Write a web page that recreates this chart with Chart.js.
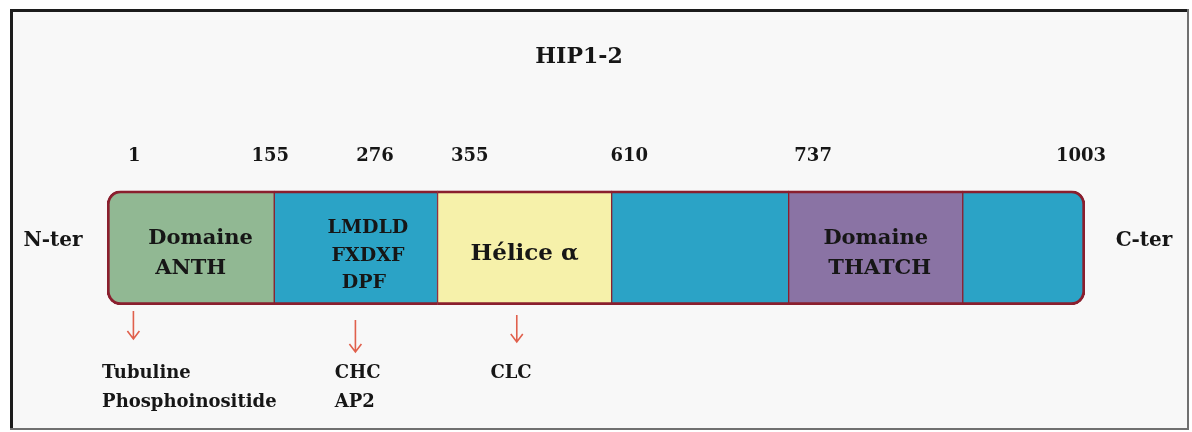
<!DOCTYPE html>
<html>
<head>
<meta charset="utf-8">
<script src="https://cdn.jsdelivr.net/npm/chart.js@4.4.1/dist/chart.umd.min.js"></script>
<style>
  html, body { margin: 0; padding: 0; background: #fff; }
  #wrap { width: 1192px; height: 432px; }
</style>
</head>
<body>
<div id="wrap"><canvas id="diagram" width="1192" height="432"></canvas></div>
<script>
// schematic domain map of HIP1-2 (widths are the drawn widths, % of the bar, not residues)
const domainNames = ["Domaine ANTH", "LMDLD FXDXF DPF", "Hélice α", "", "Domaine THATCH", ""];
const domainSpan = [17.1, 16.7, 17.8, 18.1, 17.8, 12.5];
const residueLabels = ["1", "155", "276", "355", "610", "737", "1003"];
const residueTickPos = [2.8, 16.7, 27.4, 37.1, 53.4, 72.2, 99.6];
const partnerLabels = [["Tubuline", "Phosphoinositide"], ["CHC", "AP2"], ["CLC"]];
const arrowPos = [2.7, 25.4, 41.9];
const partnerPos = [-0.5, 23.3, 39.2];

const domainColors = ["#91b893", "#2ba3c6", "#f6f1aa", "#2ba3c6", "#8a73a4", "#2ba3c6"];
const domainLines = [["Domaine", "ANTH"], ["LMDLD", "FXDXF", "DPF"], ["Hélice α"], [], ["Domaine", "THATCH"], []];
const lineStyle = [
  { size: 21, dy: [-9, 21], dx: [10, 0] },
  { size: 19, dy: [-20, 8, 35], dx: [12, 12, 8] },
  { size: 23, dy: [6], dx: [0] },
  null,
  { size: 21, dy: [-9, 21], dx: [0, 4] },
  null,
];
const SERIF = "'DejaVu Serif', 'Liberation Serif', serif";
const INK = "#161616";
const last = domainNames.length - 1;

const framePlugin = {
  id: "frame",
  beforeDraw(chart) {
    const c = chart.ctx;
    c.save();
    c.fillStyle = "#ffffff";
    c.fillRect(0, 0, chart.width, chart.height);
    c.fillStyle = "#f8f8f8";
    c.fillRect(12, 11, 1176, 417);
    c.fillStyle = "#1c1c1c";
    c.fillRect(10, 9, 1179, 3);
    c.fillRect(10, 9, 3, 421);
    c.fillStyle = "#707070";
    c.fillRect(1187, 9, 2, 421);
    c.fillRect(10, 428, 1179, 2);
    c.restore();
  },
};

const textPlugin = {
  id: "annotations",
  afterDatasetsDraw(chart) {
    const c = chart.ctx;
    const xs = chart.scales.x;
    const area = chart.chartArea;
    c.save();
    c.fillStyle = INK;
    c.textBaseline = "middle";
    c.textAlign = "center";

    // title
    c.font = "bold 22px " + SERIF;
    c.fillText("HIP1-2", 579, 57);

    // termini
    c.font = "bold 20px " + SERIF;
    c.fillText("N-ter", area.left - 54, 241);
    c.fillText("C-ter", area.right + 59, 241);

    // labels inside domains
    domainLines.forEach((lines, i) => {
      const st = lineStyle[i];
      if (!st) return;
      const bar = chart.getDatasetMeta(i).data[0];
      const cx = (bar.x + bar.base) / 2;
      c.font = "bold " + st.size + "px " + SERIF;
      lines.forEach((t, j) => c.fillText(t, cx + st.dx[j], bar.y + st.dy[j]));
    });

    // arrows to binding partners
    const first = chart.getDatasetMeta(0).data[0];
    const barBottom = first.y + first.height / 2;
    const arrowY = [[6, 34], [15, 47], [10, 37]];
    c.strokeStyle = "#e0604c";
    c.lineWidth = 1.6;
    arrowPos.forEach((v, i) => {
      const x = xs.getPixelForValue(v);
      const y0 = barBottom + arrowY[i][0];
      const y1 = barBottom + arrowY[i][1];
      c.beginPath();
      c.moveTo(x, y0);
      c.lineTo(x, y1);
      c.moveTo(x - 6, y1 - 8);
      c.lineTo(x, y1);
      c.lineTo(x + 6, y1 - 8);
      c.stroke();
    });

    // partner names
    c.textAlign = "left";
    c.font = "bold 18px " + SERIF;
    partnerLabels.forEach((lines, i) => {
      const x = xs.getPixelForValue(partnerPos[i]);
      lines.forEach((t, j) => c.fillText(t, x, 373 + j * 29));
    });
    c.restore();
  },
};

new Chart(document.getElementById("diagram").getContext("2d"), {
  type: "bar",
  data: {
    labels: ["HIP1-2"],
    datasets: domainNames.map((name, i) => ({
      label: name,
      data: [domainSpan[i]],
      backgroundColor: domainColors[i],
      borderColor: "#8a1f2e",
      borderWidth: { top: 3, bottom: 3, left: i === 0 ? 3 : 1, right: i === last ? 3 : 1 },
      borderSkipped: false,
      borderRadius: i === 0 ? { topLeft: 14, bottomLeft: 14 } : i === last ? { topRight: 14, bottomRight: 14 } : 0,
      barPercentage: 1,
      categoryPercentage: 1,
    })),
  },
  options: {
    indexAxis: "y",
    responsive: false,
    animation: false,
    layout: { padding: { left: 107, right: 107, top: 131, bottom: 127 } },
    plugins: { legend: { display: false }, tooltip: { enabled: false }, title: { display: false } },
    scales: {
      x: {
        position: "top",
        stacked: true,
        min: 0,
        max: 100,
        grid: { display: false },
        border: { display: false },
        afterBuildTicks: s => { s.ticks = residueTickPos.map(v => ({ value: v })); },
        ticks: {
          autoSkip: false,
          maxRotation: 0,
          padding: 15,
          color: INK,
          font: { family: SERIF, size: 18, weight: "bold" },
          callback: (v, i) => residueLabels[i],
        },
      },
      y: { display: false, stacked: true },
    },
  },
  plugins: [framePlugin, textPlugin],
});
</script>
</body>
</html>
